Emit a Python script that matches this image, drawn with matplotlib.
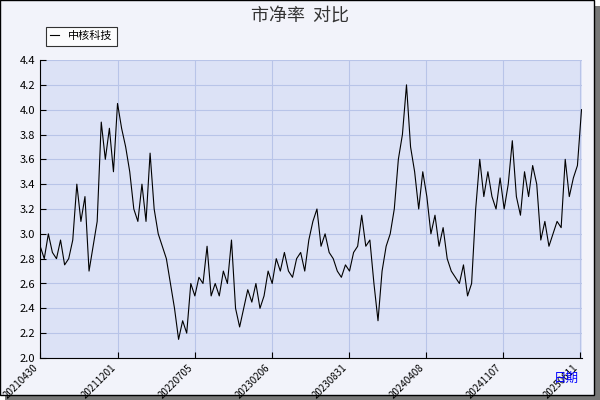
import matplotlib
matplotlib.use("Agg")
from matplotlib import pyplot as plt
import matplotlib.patches as mpatches

plt.rcParams['font.family'] = ['Noto Sans CJK SC', 'DejaVu Sans']

# trading-day index and price-to-book values
day = [0, 10, 40, 50, 60, 70, 80, 90, 100, 106, 112, 116, 126, 132, 140, 150, 156, 162, 166,
       172, 176, 184, 192, 200, 206, 212, 220, 226, 234, 240, 248, 254, 258, 260, 266, 272, 280,
       286, 294, 304, 306, 312, 320, 328, 340, 350, 360, 370, 380, 388, 400, 410, 420, 434, 444,
       456, 464, 480, 490, 500, 512, 520, 530, 540, 550, 564, 580, 588, 596, 604, 616, 626, 636,
       650, 664, 676, 696, 702, 712, 726, 732, 740, 750, 760, 768, 774, 780, 786, 790, 794, 800,
       808, 816, 824, 830, 840, 850, 860, 876, 880, 890, 898, 904, 912, 920, 926, 932, 944, 952,
       960, 968, 972, 980, 986, 996, 1004, 1010, 1012, 1016, 1022, 1030, 1034, 1036, 1040, 1044]
pb = [2.9, 2.8, 3.0, 2.85, 2.8, 2.95, 2.75, 2.8, 2.95, 3.4, 3.1, 3.3, 2.7, 2.9, 3.1, 3.9,
      3.6, 3.85, 3.5, 4.05, 3.85, 3.7, 3.5, 3.2, 3.1, 3.4, 3.1, 3.65, 3.2, 3.0, 2.9, 2.8,
      2.6, 2.4, 2.15, 2.3, 2.2, 2.6, 2.5, 2.65, 2.6, 2.9, 2.5, 2.6, 2.5, 2.7, 2.6, 2.95,
      2.4, 2.25, 2.4, 2.55, 2.45, 2.6, 2.4, 2.5, 2.7, 2.6, 2.8, 2.7, 2.85, 2.7, 2.65, 2.8,
      2.85, 2.7, 2.95, 3.1, 3.2, 2.9, 3.0, 2.85, 2.8, 2.7, 2.65, 2.75, 2.7, 2.85, 2.9, 3.15,
      2.9, 2.95, 2.6, 2.3, 2.7, 2.9, 3.0, 3.2, 3.6, 3.8, 4.2, 3.7, 3.5, 3.2, 3.5, 3.3, 3.0,
      3.15, 2.9, 3.05, 2.8, 2.7, 2.65, 2.6, 2.75, 2.5, 2.6, 3.2, 3.6, 3.3, 3.5, 3.3, 3.2,
      3.45, 3.2, 3.4, 3.75, 3.3, 3.15, 3.5, 3.3, 3.55, 3.4, 2.95, 3.1, 2.9, 3.0, 3.1, 3.05,
      3.6, 3.3, 3.45, 3.55, 4.0]
tick_pos = [0, 156, 310, 464, 618, 772, 926, 1080]
tick_labels = ["20210430", "20211201", "20220705", "20230206", "20230831",
               "20240408", "20241107", "20250611"]

n = min(len(day), len(pb))
# values were read left to right; spread them over the full span of the chart
span = 1084
day = [i * span / (len(pb) - 1) for i in range(len(pb))]

fig = plt.figure(figsize=(6, 4), dpi=100)
fig.patch.set_facecolor("white")
fig.patches.append(mpatches.Rectangle((0.008, 0.0), 0.992, 0.985, transform=fig.transFigure,
                                      facecolor="#777777", edgecolor="none", zorder=-2))
fig.patches.append(mpatches.Rectangle((0.0, 0.012), 0.99, 0.988, transform=fig.transFigure,
                                      facecolor="#f2f3fa", edgecolor="black", lw=1, zorder=-1))

ax = fig.add_axes([0.067, 0.105, 0.903, 0.745])
ax.set_facecolor("#dce2f6")
ax.plot(day, pb, color="black", lw=0.8, label="中核科技")
ax.set_xlim(0, 1085)
ax.set_ylim(2.0, 4.4)
ax.set_yticks([2.0 + 0.2 * i for i in range(13)])
ax.set_yticklabels([f"{2.0 + 0.2 * i:.1f}" for i in range(13)], fontsize=8)
ax.set_xticks(tick_pos)
ax.set_xticklabels(tick_labels, rotation=45, ha="right", fontsize=7)
ax.grid(True, color="#b8c4e8", lw=0.8)
for s in ["top", "right"]:
    ax.spines[s].set_visible(False)
ax.tick_params(direction="in", length=4)

fig.text(0.5, 0.96, "市净率  对比", ha="center", va="center", fontsize=13, color="#333333")
fig.text(0.965, 0.055, "日期", ha="right", va="center", fontsize=9, color="blue")
leg = ax.legend(loc="upper left", bbox_to_anchor=(0.0, 1.13), fontsize=8, frameon=True,
                fancybox=False, edgecolor="black", handlelength=0.8)
leg.get_frame().set_linewidth(0.8)

fig.savefig("out.png", dpi=100, facecolor=fig.get_facecolor())
